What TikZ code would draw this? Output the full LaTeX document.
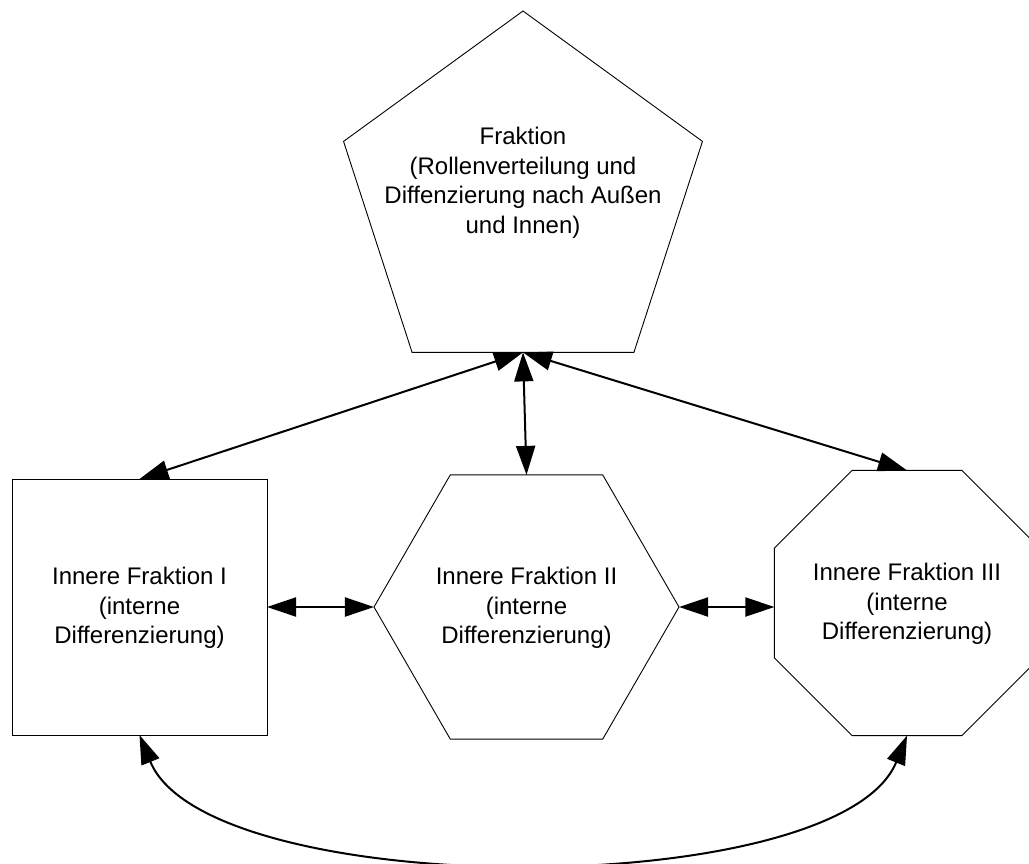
\documentclass[tikz,border=0pt]{standalone}
\usepackage{fontspec}
\setmainfont{Liberation Sans}
\usetikzlibrary{shapes.geometric,arrows.meta}
\begin{document}
\begin{tikzpicture}[x=1pt,y=-1pt,
  shapebox/.style={draw=black, line width=0.9pt, inner sep=0pt, outer sep=0pt},
  txt/.style={align=center, font=\fontsize{24}{29.5}\selectfont, inner sep=0pt},
  link/.style={line width=2pt, {Triangle[length=29pt,width=19pt]}-{Triangle[length=29pt,width=19pt]}}
  ]
\useasboundingbox (0,0) rectangle (1029,863);
% shapes
\node[shapebox, regular polygon, regular polygon sides=5, minimum size=377.4pt] (pent) at (523,199.7) {};
\node[shapebox, rectangle, minimum width=255pt, minimum height=256pt] (sq) at (139.5,607) {};
\node[shapebox, regular polygon, regular polygon sides=6, minimum size=305pt] (hex) at (526.5,607) {};
\node[shapebox, regular polygon, regular polygon sides=8, minimum size=287pt] (oct) at (907,603) {};
% texts
\node[txt] (tpent) at (523,183) {Fraktion\\(Rollenverteilung und\\Diffenzierung nach Außen\\und Innen)};
\node[txt] (tsq) at (139.5,608) {Innere Fraktion I\\(interne\\Differenzierung)};
\node[txt] (thex) at (526.5,608) {Innere Fraktion II\\(interne\\Differenzierung)};
\node[txt] (toct) at (907,604) {Innere Fraktion III\\(interne\\Differenzierung)};
% connectors
\draw[link] (pent.south) -- (sq.north);
\draw[link] (pent.south) -- (hex.north);
\draw[link] (pent.south) -- (oct.north);
\draw[link] (sq.east) -- (hex.west);
\draw[link] (hex.east) -- (hex.east -| oct.west);
\draw[link] (sq.south) .. controls +(68,167) and +(-68,167) .. (oct.south);
\end{tikzpicture}
\end{document}
